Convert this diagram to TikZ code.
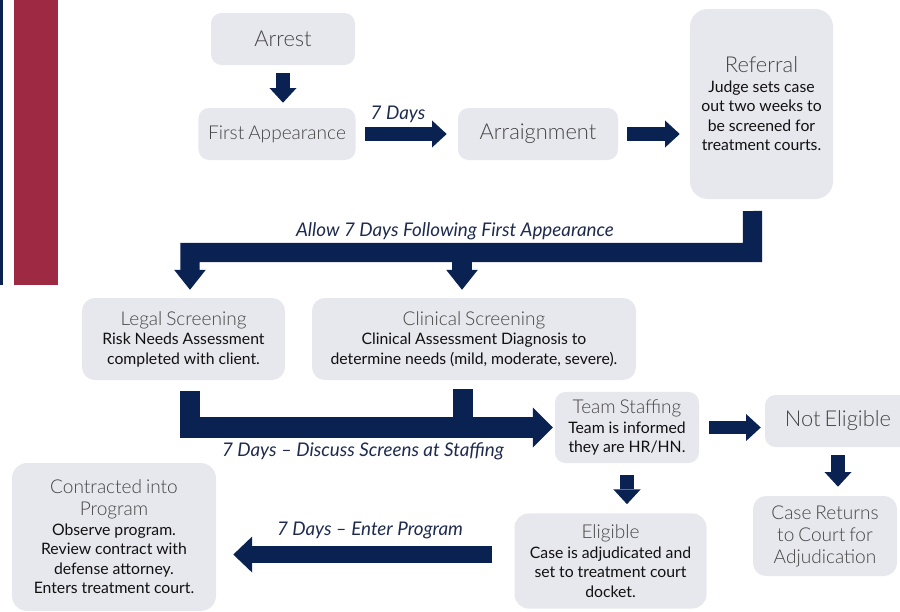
\documentclass[tikz,border=0pt]{standalone}
\usepackage{fontspec}
\setmainfont{Lato}
\newfontfamily\lightfont{Lato Light}
\usepackage{tikz}
\usetikzlibrary{calc,arrows.meta}

\setlength{\parindent}{0pt}
\setlength{\parskip}{0pt}

\definecolor{navy}{HTML}{0A2251}
\definecolor{crimson}{HTML}{9D2A42}
\definecolor{boxgray}{HTML}{E7E8ED}
\definecolor{headgray}{HTML}{454545}
\definecolor{textblack}{HTML}{111111}
\definecolor{labelnavy}{HTML}{1E2B4E}

\newcommand{\hdbig}{\lightfont\fontsize{18.6}{21}\selectfont\color{headgray}}
\newcommand{\hd}{\lightfont\fontsize{16.2}{18.7}\selectfont\color{headgray}}
\newcommand{\bd}{\normalfont\fontsize{13.4}{16.6}\selectfont\color{textblack}}

\tikzset{
	box/.style={fill=boxgray, rounded corners=9pt, align=center, inner sep=0pt},
	lbl/.style={font=\itshape\fontsize{16}{18}\selectfont, text=labelnavy, inner sep=0pt},
	blk/.style={draw=navy, line width=11.5pt, -{Triangle[length=12.5pt,width=23pt,line width=0pt]}},
	bigblk/.style={draw=navy, line width=16.5pt, -{Triangle[length=17pt,width=27pt,line width=0pt]}},
	botblk/.style={draw=navy, line width=17.8pt, -{Triangle[length=17pt,width=34pt,line width=0pt]}},
	endblk/.style={draw=navy, line width=14.5pt, -{Triangle[length=16pt,width=30.6pt,line width=0pt]}}
}

\begin{document}
\begin{tikzpicture}[x=0.85pt,y=-0.85pt]
	\useasboundingbox (0,0) rectangle (900,612);
	
	%side bars
	\fill[navy] (0,0) rectangle (3,285);
	\fill[crimson] (14,0) rectangle (58,285);
	
	%boxes - top row
	\node[box, text width=122.4pt, minimum height=44.2pt] (arrest) at (283,39) {\hdbig Arrest\par};
	\node[box, text width=133.5pt, minimum height=44.2pt] (fa) at (277,134) {\hd First Appearance\par};
	\node[box, text width=136pt, minimum height=44.2pt] (arr) at (538,134) {\hdbig Arraignment\par};
	\node[box, rounded corners=15pt, text width=121.6pt, minimum height=161.5pt] (ref) at (761.5,104)
		{\hdbig Referral\par\bd Judge sets case\\out two weeks to\\be screened for\\treatment courts.\par};
	
	%boxes - screening
	\node[box, rounded corners=11pt, text width=172.6pt, minimum height=69.7pt] (legal) at (183.5,339)
		{\hd Legal Screening\par\bd Risk Needs Assessment\\completed with client.\par};
	\node[box, rounded corners=11pt, text width=275.4pt, minimum height=69.7pt] (clin) at (474,339)
		{\hd Clinical Screening\par\bd Clinical Assessment Diagnosis to\\determine needs (mild, moderate, severe).\par};
	
	%boxes - staffing and outcome
	\node[box, text width=122.4pt, minimum height=60.4pt] (staff) at (627,427.5)
		{\hd Team Staffing\par\bd Team is informed\\they are HR/HN.\par};
	\node[box, text width=124.1pt, minimum height=44.2pt] (ne) at (838,421) {\hdbig Not Eligible\par};
	\node[box, rounded corners=11pt, text width=122.4pt, minimum height=68pt] (case) at (825,536)
		{\hd Case Returns\\to Court for\\Adjudication\par};
	\node[box, rounded corners=12pt, text width=163.2pt, minimum height=80.8pt] (elig) at (610.5,561)
		{\hd Eligible\par\bd Case is adjudicated and\\set to treatment court\\docket.\par};
	\node[box, rounded corners=13pt, text width=173.4pt, minimum height=125.8pt] (contr) at (114,537)
		{\hd Contracted into\\Program\par\bd Observe program.\\Review contract with\\defense attorney.\\Enters treatment court.\par};
	
	%bend points
	\coordinate (topbend) at (752.5,252.5);
	\coordinate (topjoin) at (462,252.5);
	\coordinate (legaltop) at ([xshift=5.5pt]legal.north);
	\coordinate (legalbot) at ([xshift=5.5pt]legal.south);
	\coordinate (clinbot) at ([xshift=-9.35pt]clin.south);
	
	%arrows
	\draw[blk, shorten <=6.8pt, shorten >=4.3pt] (arrest.south) -- (arrest.south |- fa.north);
	\draw[blk, shorten <=7.7pt, shorten >=9.4pt] (fa.east) -- (arr.west);
	\draw[blk, shorten <=7.7pt, shorten >=8.5pt] (arr.east) -- (arr.east -| ref.west);
	\draw[bigblk, shorten <=10pt, shorten >=6.8pt] ([xshift=-7.7pt]ref.south) -- (topbend) -- (topbend -| legaltop) -- (legaltop);
	\draw[bigblk, shorten >=6.8pt] (topjoin) -- (topjoin |- clin.north);
	\draw[botblk, shorten <=9.4pt, shorten >=1.7pt] (legalbot) -- (legalbot |- staff.west) -- (staff.west);
	\draw[draw=navy, line width=17.8pt, shorten <=7.7pt] (clinbot) -- (clinbot |- staff.west);
	\draw[blk, shorten <=8.5pt, shorten >=3.4pt] (staff.east) -- (staff.east -| ne.west);
	\draw[blk, shorten <=10pt, shorten >=7.7pt] (staff.south) -- (staff.south |- elig.north);
	\draw[blk, shorten <=6.8pt, shorten >=7.7pt] (ne.south) -- (ne.south |- case.north);
	\draw[endblk, shorten <=18.7pt, shorten >=14.5pt] ([yshift=5.5pt]elig.west) -- ([yshift=5.5pt]elig.west -| contr.east);
	
	%labels
	\node[lbl] (l7days) at (398,114) {7 Days};
	\node[lbl] (lallow) at (455,231) {Allow 7 Days Following First Appearance};
	\node[lbl] (lstaff) at (363,451) {7 Days – Discuss Screens at Staffing};
	\node[lbl] (lenter) at (370,530) {7 Days – Enter Program};
	
	%\draw[help lines] (0,0) grid[step=50] (900,612);
\end{tikzpicture}
\end{document}
